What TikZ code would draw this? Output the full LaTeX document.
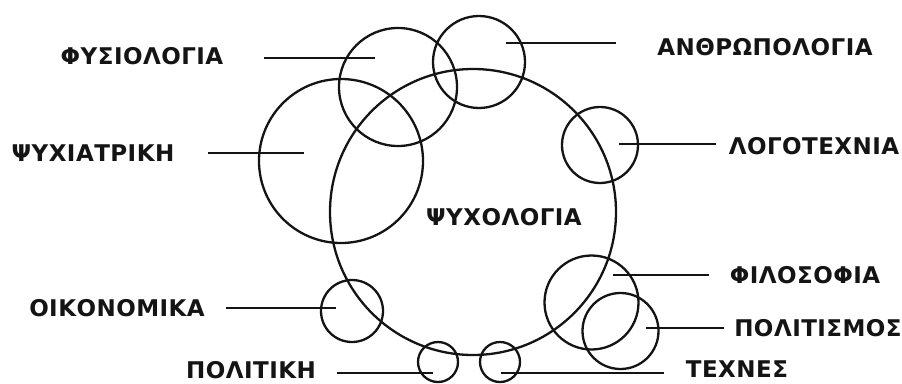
\documentclass[tikz,border=0pt]{standalone}
\usepackage{fontspec}
\usepackage{xcolor}
\usepackage{tikz}
\usetikzlibrary{positioning, calc}
\newfontfamily\grfont{DejaVu Sans}[LetterSpace=2]
\definecolor{inkBlack}{RGB}{20, 20, 20}
\tikzset{
  ring/.style={
    circle, draw=inkBlack,
    line width=2.3pt, inner sep=0pt
  },
  fieldlabel/.style={
    inner sep=0pt, text=inkBlack,
    font=\grfont\bfseries\fontsize{23}{25}\selectfont
  },
  link/.style={
    line width=2.1pt, color=inkBlack
  }
}

\begin{document}
\begin{tikzpicture}[x=1pt, y=-1pt]
\useasboundingbox (0,0) rectangle (902,383);

% --- central field ---
\node[ring, minimum size=286pt] (psych) at (473,212) {};
\node[fieldlabel] (psych-lbl) at (504,217) {ΨΥΧΟΛΟΓΙΑ};

% --- neighbouring fields ---
\node[ring, minimum size=164pt] (psychiatry) at (341,161) {};
\node[ring, minimum size=118pt] (physio) at (398,87) {};
\node[ring, minimum size=92pt] (anthro) at (479,62) {};
\node[ring, minimum size=76pt] (lit) at (600,145) {};
\node[ring, minimum size=94pt] (philo) at (591.5,302.5) {};
\node[ring, minimum size=76pt] (culture) at (620.5,331) {};
\node[ring, minimum size=62pt] (econ) at (352,311) {};
\node[ring, minimum size=40pt] (politics) at (438,362) {};
\node[ring, minimum size=40pt] (arts) at (500,362) {};

% --- labels ---
\node[fieldlabel] (physio-lbl) at (142,56) {ΦΥΣΙΟΛΟΓΙΑ};
\node[fieldlabel] (psychiatry-lbl) at (93,153) {ΨΥΧΙΑΤΡΙΚΗ};
\node[fieldlabel] (econ-lbl) at (117,308) {ΟΙΚΟΝΟΜΙΚΑ};
\node[fieldlabel] (politics-lbl) at (251,370) {ΠΟΛΙΤΙΚΗ};
\node[fieldlabel] (anthro-lbl) at (765,47) {ΑΝΘΡΩΠΟΛΟΓΙΑ};
\node[fieldlabel] (lit-lbl) at (814,146) {ΛΟΓΟΤΕΧΝΙΑ};
\node[fieldlabel] (philo-lbl) at (805,275) {ΦΙΛΟΣΟΦΙΑ};
\node[fieldlabel] (culture-lbl) at (818,328) {ΠΟΛΙΤΙΣΜΟΣ};
\node[fieldlabel] (arts-lbl) at (737,369) {ΤΕΧΝΕΣ};

% --- line ends ---
\coordinate (physio-a) at (264,58);
\coordinate (physio-b) at (375,58);
\coordinate (psychiatry-a) at (208,153);
\coordinate (psychiatry-b) at (304,153);
\coordinate (econ-a) at (226,308);
\coordinate (econ-b) at (336,308);
\coordinate (politics-a) at (337,373);
\coordinate (politics-b) at (433,373);
\coordinate (anthro-a) at (616,43);
\coordinate (anthro-b) at (506,43);
\coordinate (lit-a) at (716,144);
\coordinate (lit-b) at (619,144);
\coordinate (philo-a) at (709,275);
\coordinate (philo-b) at (613,275);
\coordinate (culture-a) at (724,328);
\coordinate (culture-b) at (646,328);
\coordinate (arts-a) at (664,373);
\coordinate (arts-b) at (501,373);

% --- connectors ---
\foreach \f in {physio, psychiatry, econ, politics, anthro, lit, philo, culture, arts}
  \draw[link] (\f-a) -- (\f-b);

\end{tikzpicture}
\end{document}
